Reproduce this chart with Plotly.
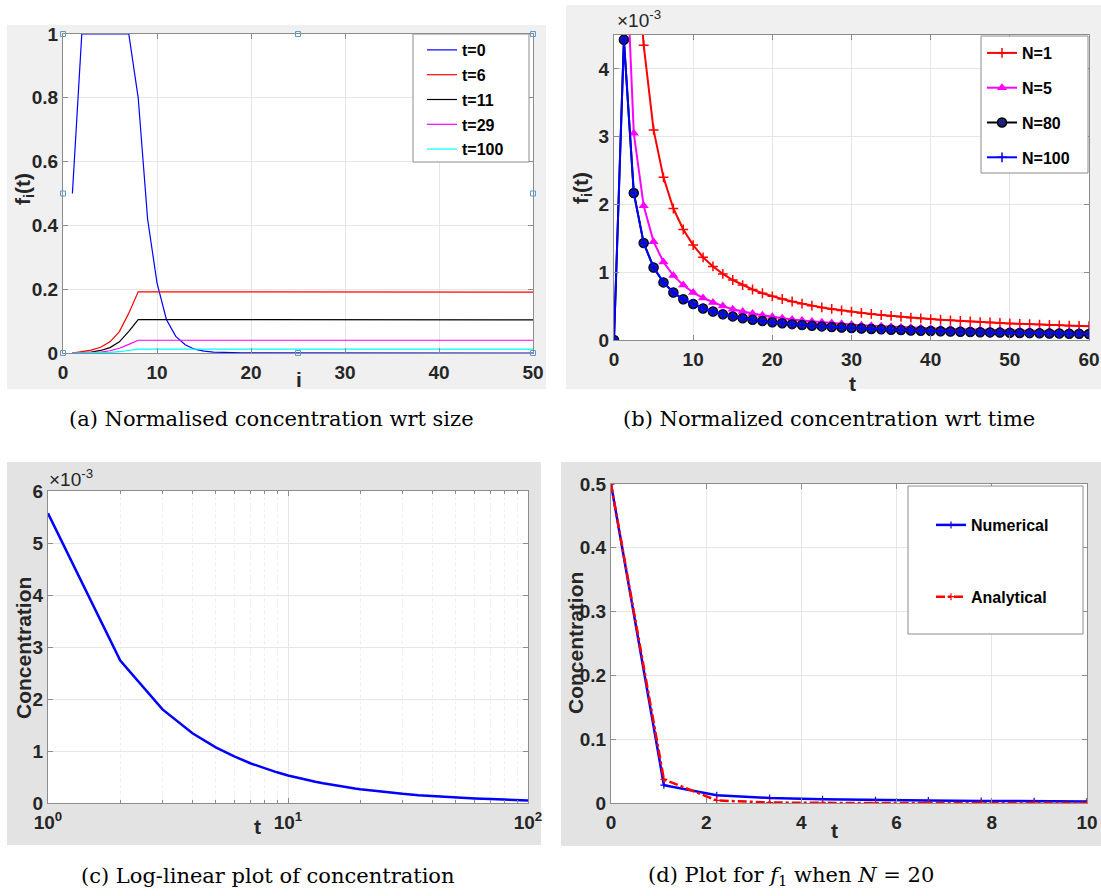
import plotly.graph_objects as go

W, H = 1101, 896
FONT = "Liberation Sans, Arial, Helvetica, sans-serif"
SERIF = "DejaVu Serif, Liberation Serif, serif"

# ---------------- Panel (a): normalised concentration vs size i ----------------
size_i = list(range(1, 51))
f_t0 = [0.5, 1.0, 1.0, 1.0, 1.0, 1.0, 1.0, 0.80, 0.42, 0.22,
        0.105, 0.052, 0.026, 0.012, 0.006, 0.003, 0.0015, 0.0007, 0.0003, 0.0001,
        0.0, 0.0, 0.0, 0.0, 0.0, 0.0, 0.0, 0.0, 0.0, 0.0,
        0.0, 0.0, 0.0, 0.0, 0.0, 0.0, 0.0, 0.0, 0.0, 0.0,
        0.0, 0.0, 0.0, 0.0, 0.0, 0.0, 0.0, 0.0, 0.0, 0.0]
f_t6 = [0.0, 0.004, 0.009, 0.018, 0.035, 0.067, 0.125, 0.192, 0.192, 0.192,
        0.192, 0.192, 0.191, 0.191, 0.191, 0.191, 0.191, 0.191, 0.191, 0.191,
        0.191, 0.191, 0.191, 0.191, 0.191, 0.191, 0.191, 0.191, 0.191, 0.191,
        0.191, 0.191, 0.191, 0.191, 0.191, 0.191, 0.191, 0.191, 0.191, 0.191,
        0.191, 0.191, 0.191, 0.191, 0.191, 0.191, 0.191, 0.191, 0.191, 0.191]
f_t11 = [0.0, 0.001, 0.003, 0.008, 0.017, 0.035, 0.068, 0.105, 0.105, 0.105,
         0.105, 0.105, 0.105, 0.105, 0.105, 0.105, 0.105, 0.105, 0.105, 0.105,
         0.104, 0.104, 0.104, 0.104, 0.104, 0.104, 0.104, 0.104, 0.104, 0.104,
         0.104, 0.104, 0.104, 0.104, 0.104, 0.104, 0.104, 0.104, 0.104, 0.104,
         0.104, 0.104, 0.104, 0.104, 0.104, 0.104, 0.104, 0.104, 0.104, 0.104]
f_t29 = [0.0, 0.0003, 0.001, 0.003, 0.007, 0.015, 0.027, 0.040, 0.040, 0.040,
         0.040, 0.040, 0.040, 0.040, 0.040, 0.040, 0.040, 0.040, 0.040, 0.040,
         0.040, 0.040, 0.040, 0.040, 0.040, 0.040, 0.040, 0.040, 0.040, 0.040,
         0.040, 0.040, 0.040, 0.040, 0.040, 0.040, 0.040, 0.040, 0.040, 0.040,
         0.040, 0.040, 0.040, 0.040, 0.040, 0.040, 0.040, 0.040, 0.040, 0.040]
f_t100 = [0.0, 0.0, 0.0002, 0.0006, 0.002, 0.004, 0.008, 0.012, 0.012, 0.012,
          0.012, 0.012, 0.012, 0.012, 0.012, 0.012, 0.012, 0.012, 0.012, 0.012,
          0.012, 0.012, 0.012, 0.012, 0.012, 0.012, 0.012, 0.012, 0.012, 0.012,
          0.012, 0.012, 0.012, 0.012, 0.012, 0.012, 0.012, 0.012, 0.012, 0.012,
          0.012, 0.012, 0.012, 0.012, 0.012, 0.012, 0.012, 0.012, 0.012, 0.012]
handle_x = [0, 25, 50, 0, 50, 0, 25, 50]
handle_y = [1, 1, 1, 0.5, 0.5, 0, 0, 0]

# ---------------- Panel (b): normalised concentration vs time (x 1e-3) ----------------
t_b = [0, 1.25, 2.5, 3.75, 5, 6.25, 7.5, 8.75, 10, 11.25, 12.5, 13.75, 15, 16.25,
       17.5, 18.75, 20, 21.25, 22.5, 23.75, 25, 26.25, 27.5, 28.75, 30, 31.25, 32.5,
       33.75, 35, 36.25, 37.5, 38.75, 40, 41.25, 42.5, 43.75, 45, 46.25, 47.5, 48.75,
       50, 51.25, 52.5, 53.75, 55, 56.25, 57.5, 58.75, 60]
n1_t = t_b[2:]
n1_f = [6.2, 4.35, 3.10, 2.40, 1.94, 1.63, 1.40, 1.22, 1.085, 0.975, 0.885, 0.81,
        0.745, 0.69, 0.645, 0.605, 0.568, 0.536, 0.507, 0.481, 0.458, 0.437, 0.418,
        0.400, 0.384, 0.369, 0.355, 0.342, 0.330, 0.319, 0.309, 0.299, 0.290, 0.281,
        0.273, 0.265, 0.258, 0.251, 0.245, 0.239, 0.233, 0.227, 0.222, 0.217, 0.212,
        0.207, 0.203]
n5_t = t_b[1:]
n5_f = [6.5, 3.05, 1.98, 1.45, 1.15, 0.95, 0.81, 0.70, 0.62, 0.555, 0.50, 0.455,
        0.42, 0.39, 0.365, 0.342, 0.322, 0.304, 0.288, 0.274, 0.261, 0.249, 0.238,
        0.228, 0.219, 0.211, 0.203, 0.196, 0.189, 0.183, 0.177, 0.171, 0.166, 0.161,
        0.157, 0.153, 0.149, 0.145, 0.141, 0.138, 0.135, 0.132, 0.129, 0.126, 0.123,
        0.120, 0.118, 0.115]
n80_f = [0.0, 4.43, 2.17, 1.43, 1.07, 0.85, 0.70, 0.60, 0.53, 0.465, 0.42, 0.38,
         0.348, 0.322, 0.298, 0.279, 0.262, 0.247, 0.234, 0.222, 0.211, 0.201, 0.192,
         0.184, 0.176, 0.169, 0.163, 0.157, 0.151, 0.146, 0.141, 0.137, 0.133, 0.129,
         0.125, 0.121, 0.118, 0.115, 0.112, 0.109, 0.106, 0.104, 0.101, 0.099, 0.097,
         0.095, 0.093, 0.091, 0.089]
n100_f = [0.0, 4.43, 2.17, 1.43, 1.07, 0.85, 0.70, 0.60, 0.53, 0.465, 0.42, 0.38,
          0.348, 0.322, 0.298, 0.279, 0.262, 0.247, 0.234, 0.222, 0.211, 0.201, 0.192,
          0.184, 0.176, 0.169, 0.163, 0.157, 0.151, 0.146, 0.141, 0.137, 0.133, 0.129,
          0.125, 0.121, 0.118, 0.115, 0.112, 0.109, 0.106, 0.104, 0.101, 0.099, 0.097,
          0.095, 0.093, 0.091, 0.089]

# ---------------- Panel (c): log-linear concentration (x 1e-3) ----------------
t_c = [1, 2, 3, 4, 5, 6, 7, 8, 9, 10, 11, 12, 13, 14, 15, 16, 17, 18, 19, 20,
       25, 30, 35, 40, 50, 60, 70, 80, 90, 100]
conc_c = [5.57, 2.74, 1.80, 1.34, 1.07, 0.89, 0.76, 0.665, 0.59, 0.53, 0.482, 0.441,
          0.407, 0.378, 0.353, 0.33, 0.311, 0.294, 0.278, 0.264, 0.211, 0.176, 0.151,
          0.132, 0.106, 0.088, 0.076, 0.066, 0.058, 0.050]

# ---------------- Panel (d): f1 when N = 20 ----------------
t_d = [0, 1.111, 2.222, 3.333, 4.444, 5.556, 6.667, 7.778, 8.889, 10]
numerical = [0.5, 0.028, 0.012, 0.008, 0.006, 0.0045, 0.0038, 0.0032, 0.0028, 0.0025]
analytical = [0.5, 0.037, 0.004, 0.0008, 0.0002, 0.0001, 0.0001, 0.0, 0.0, 0.0]

# ---------------- figure ----------------
fig = go.Figure()

def px(x): return x / W
def py(y): return 1 - y / H

# (a)
for name, vals, col in [("t=0", f_t0, "#0000ff"), ("t=6", f_t6, "#ff0000"),
                        ("t=11", f_t11, "#000000"), ("t=29", f_t29, "#ff00ff"),
                        ("t=100", f_t100, "#00ffff")]:
    fig.add_trace(go.Scatter(x=size_i, y=vals, mode="lines", name=name,
                             line=dict(color=col, width=1.2), xaxis="x", yaxis="y",
                             legend="legend", legendgroup=name))
fig.add_trace(go.Scatter(x=handle_x, y=handle_y, mode="markers", showlegend=False,
                         marker=dict(symbol="square-open", size=5, color="#5b9bd5"),
                         cliponaxis=False, xaxis="x", yaxis="y"))

# (b)
fig.add_trace(go.Scatter(x=n1_t, y=n1_f, mode="lines+markers", name="N=1",
                         line=dict(color="#ff0000", width=2),
                         marker=dict(symbol="cross-thin", size=7, line=dict(color="#ff0000", width=1.5)),
                         xaxis="x2", yaxis="y2", legend="legend2", legendgroup="n1"))
fig.add_trace(go.Scatter(x=n5_t, y=n5_f, mode="lines+markers", name="N=5",
                         line=dict(color="#ff00ff", width=2),
                         marker=dict(symbol="triangle-up", size=9, color="#ff00ff"),
                         xaxis="x2", yaxis="y2", legend="legend2", legendgroup="n5"))
fig.add_trace(go.Scatter(x=t_b, y=n80_f, mode="lines+markers", name="N=80",
                         line=dict(color="#000000", width=2),
                         marker=dict(symbol="circle", size=9, color="#1c2478",
                                     line=dict(color="#000000", width=1.5)),
                         xaxis="x2", yaxis="y2", legend="legend2", legendgroup="n80"))
fig.add_trace(go.Scatter(x=t_b, y=n100_f, mode="lines+markers", name="N=100",
                         line=dict(color="#0000ff", width=2),
                         marker=dict(symbol="cross-thin", size=7, line=dict(color="#0000ff", width=1.5)),
                         xaxis="x2", yaxis="y2", legend="legend2", legendgroup="n100"))

# (c)
fig.add_trace(go.Scatter(x=t_c, y=conc_c, mode="lines", showlegend=False,
                         line=dict(color="#0000ff", width=2.5), xaxis="x3", yaxis="y3"))

# (d)
fig.add_trace(go.Scatter(x=t_d, y=numerical, mode="lines+markers", name="Numerical",
                         line=dict(color="#0000ff", width=2.5),
                         marker=dict(symbol="cross-thin", size=5, line=dict(color="#0000ff", width=1.2)),
                         xaxis="x4", yaxis="y4", legend="legend3", legendgroup="num"))
fig.add_trace(go.Scatter(x=t_d, y=analytical, mode="lines+markers", name="Analytical",
                         line=dict(color="#ff0000", width=2.5, dash="dashdot"),
                         marker=dict(symbol="cross-thin", size=5, line=dict(color="#ff0000", width=1.2)),
                         xaxis="x4", yaxis="y4", legend="legend3", legendgroup="ana"))

tickfont = dict(family=FONT, size=19, color="#262626", weight="bold")
common = dict(showline=True, linecolor="#8c8c8c", linewidth=1, mirror="ticks",
              ticks="inside", ticklen=5, tickcolor="#8c8c8c", showgrid=True,
              gridcolor="#e6e6e6", zeroline=False, tickfont=tickfont, automargin=False)

legfont = dict(family=FONT, size=16, color="#000", weight="bold")
layout = dict(
    width=W, height=H, margin=dict(l=0, r=0, t=0, b=0, autoexpand=False),
    paper_bgcolor="white", plot_bgcolor="white", showlegend=True,
    xaxis=dict(domain=[px(63), px(533)], anchor="y", range=[0, 50], dtick=10,
               ticklabelstandoff=2, **common),
    yaxis=dict(domain=[py(353), py(34)], anchor="x", range=[0, 1],
               tickvals=[0, 0.2, 0.4, 0.6, 0.8, 1], ticktext=["0", "0.2", "0.4", "0.6", "0.8", "1"],
               **common),
    xaxis2=dict(domain=[px(614), px(1089)], anchor="y2", range=[0, 60], dtick=10,
                ticklabelstandoff=2, **common),
    yaxis2=dict(domain=[py(340), py(35)], anchor="x2", range=[0, 4.5], tickvals=[0, 1, 2, 3, 4],
                **common),
    xaxis3=dict(domain=[px(48), px(528)], anchor="y3", type="log", range=[0, 2],
                tickvals=[1, 10, 100], ticktext=["10<sup>0</sup>", "10<sup>1</sup>", "10<sup>2</sup>"],
                minor=dict(tickvals=[2, 3, 4, 5, 6, 7, 8, 9, 20, 30, 40, 50, 60, 70, 80, 90],
                           ticks="inside", ticklen=3, tickcolor="#8c8c8c", showgrid=True,
                           gridcolor="#eeeeee", griddash="dot"),
                ticklabelstandoff=2, **common),
    yaxis3=dict(domain=[py(803), py(491)], anchor="x3", range=[0, 6], dtick=1, **common),
    xaxis4=dict(domain=[px(611), px(1087)], anchor="y4", range=[0, 10], dtick=2,
                ticklabelstandoff=2, **common),
    yaxis4=dict(domain=[py(803), py(484)], anchor="x4", range=[0, 0.5],
                tickvals=[0, 0.1, 0.2, 0.3, 0.4, 0.5], ticktext=["0", "0.1", "0.2", "0.3", "0.4", "0.5"],
                **common),
    legend=dict(x=px(422), y=py(33), xanchor="left", yanchor="top", bgcolor="rgba(0,0,0,0)",
                borderwidth=0, itemwidth=30, tracegroupgap=1, font=legfont),
    legend2=dict(x=px(982), y=py(36), xanchor="left", yanchor="top", bgcolor="rgba(0,0,0,0)",
                 borderwidth=0, itemwidth=30, tracegroupgap=11, font=legfont),
    legend3=dict(x=px(931), y=py(508), xanchor="left", yanchor="top", bgcolor="rgba(0,0,0,0)",
                 borderwidth=0, itemwidth=30, tracegroupgap=48, font=legfont),
)
fig.update_layout(**layout)

# backgrounds (grey figure panels, white axes areas) and legend boxes
shapes = []
for (x0, y0, x1, y1, c) in [(7, 25, 546, 389, "#f0f0f0"), (566, 5, 1101, 389, "#f0f0f0"),
                            (7, 462, 541, 845, "#e3e3e3"), (561, 462, 1101, 846, "#e3e3e3")]:
    shapes.append(dict(type="rect", xref="paper", yref="paper", x0=px(x0), x1=px(x1),
                       y0=py(y1), y1=py(y0), fillcolor=c, line=dict(width=0), layer="below"))
for (x0, y0, x1, y1) in [(63, 34, 533, 353), (614, 35, 1089, 340), (48, 491, 528, 803), (611, 484, 1087, 803)]:
    shapes.append(dict(type="rect", xref="paper", yref="paper", x0=px(x0), x1=px(x1),
                       y0=py(y1), y1=py(y0), fillcolor="white", line=dict(width=0), layer="below"))
for (x0, y0, x1, y1) in [(413, 34, 529, 162), (981, 36, 1088, 173), (908, 486, 1083, 634)]:
    shapes.append(dict(type="rect", xref="paper", yref="paper", x0=px(x0), x1=px(x1),
                       y0=py(y1), y1=py(y0), fillcolor="white", line=dict(color="#8c8c8c", width=1),
                       layer="above"))
fig.update_layout(shapes=shapes)

lab = dict(family=FONT, size=21, color="#262626", weight="bold")
ann = []
def A(text, x, y, font, angle=0, xanchor="center"):
    ann.append(dict(text=text, x=px(x), y=py(y), xref="paper", yref="paper", showarrow=False,
                    font=font, textangle=angle, xanchor=xanchor, yanchor="middle"))

A("f<sub>i</sub>(t)", 24, 189, lab, -90)
A("i", 299, 379, lab)
A("f<sub>i</sub>(t)", 582, 188, lab, -90)
A("t", 852, 383, lab)
A("Concentration", 23, 648, lab, -90)
A("t", 257, 826, lab)
A("Concentration", 575, 643, lab, -90)
A("t", 834, 830, lab)
expf = dict(family=FONT, size=19, color="#262626")
A("\u00d710<sup>-3</sup>", 615, 19, expf, xanchor="left")
A("\u00d710<sup>-3</sup>", 47, 478, expf, xanchor="left")

cap = dict(family=SERIF, size=21, color="#000000")
A("(a) Normalised concentration wrt size", 271, 419, cap)
A("(b) Normalized concentration wrt time", 829, 419, cap)
A("(c) Log-linear plot of concentration", 268, 876, cap)
A("(d) Plot for <i>f</i><sub>1</sub> when <i>N</i> = 20", 791, 876, cap)
fig.update_layout(annotations=ann)

fig.write_html("out.html", config={"displayModeBar": False},
               post_script="document.body.style.margin='0';document.body.style.overflow='hidden';")
